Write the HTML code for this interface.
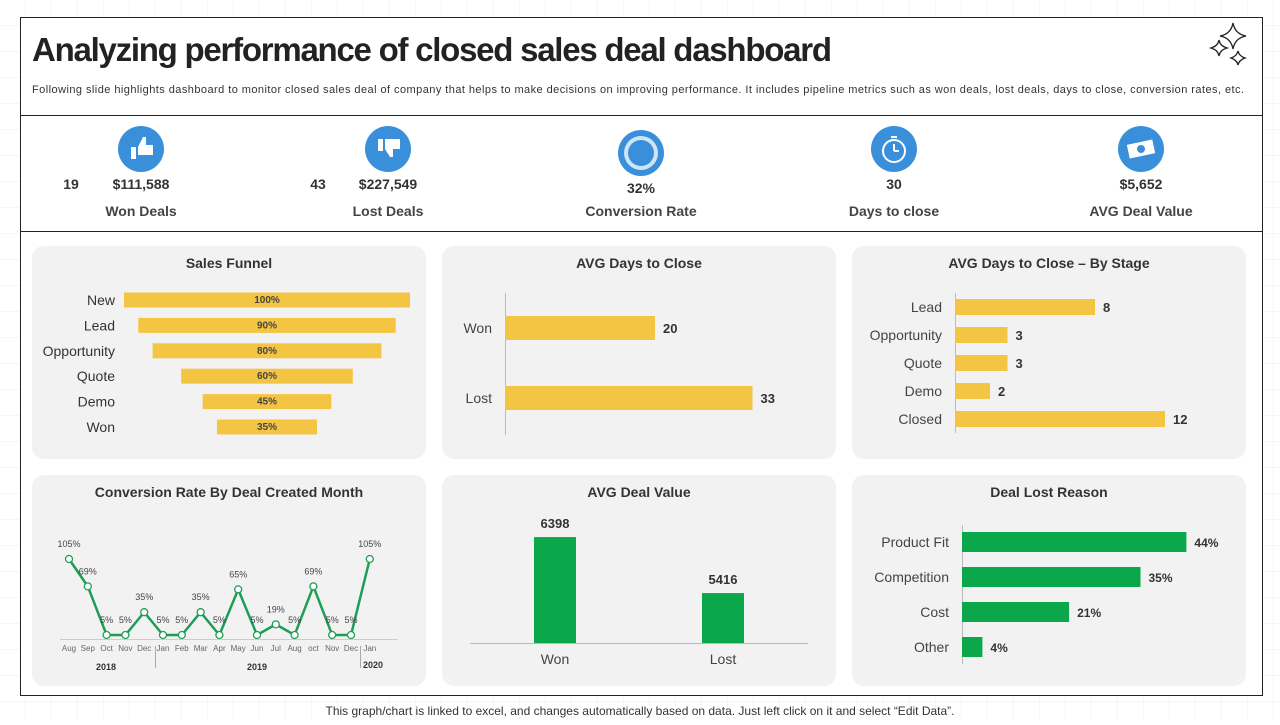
<!DOCTYPE html>
<html><head><meta charset="utf-8">
<style>
body{margin:0;width:1280px;height:720px;overflow:hidden;background:#fff;font-family:"Liberation Sans",sans-serif;}
svg text{font-family:"Liberation Sans",sans-serif;}
</style></head>
<body>
<svg id="s" width="1280" height="720" xmlns="http://www.w3.org/2000/svg">
<defs><pattern id="g" width="26" height="26" patternUnits="userSpaceOnUse"><path d="M26 0V26H0" fill="none" stroke="#eee" stroke-width="1"/></pattern></defs>
<rect width="1280" height="720" fill="url(#g)"/>
<rect x="20.5" y="17.5" width="1242" height="678" fill="#fff" stroke="#222"/>
<line x1="20" y1="115.5" x2="1263" y2="115.5" stroke="#222"/>
<line x1="20" y1="231.5" x2="1263" y2="231.5" stroke="#222"/>
<text x="32" y="61" font-size="33" font-weight="bold" fill="#222" textLength="800">Analyzing performance of closed sales deal dashboard</text>
<text x="32" y="93" font-size="11" fill="#333" textLength="1212">Following slide highlights dashboard to monitor closed sales deal of company that helps to make decisions on improving performance. It includes pipeline metrics such as won deals, lost deals, days to close, conversion rates, etc.</text>
<g fill="none" stroke="#222" stroke-width="1.3">
<path d="M1233 23 Q1235 34 1246 36 Q1235 38 1233 49 Q1231 38 1220 36 Q1231 34 1233 23Z"/>
<path d="M1219 40 Q1220 46 1227 48 Q1220 50 1219 56 Q1218 50 1211 48 Q1218 46 1219 40Z"/>
<path d="M1238 51 Q1239 56 1245 58 Q1239 60 1238 65 Q1237 60 1231 58 Q1237 56 1238 51Z"/>
</g>
<text x="640" y="715" font-size="12" fill="#333" text-anchor="middle">This graph/chart is linked to excel, and changes automatically based on data. Just left click on it and select “Edit Data”.</text>
<g id="kpis"></g>
<g id="panels"></g>
</svg>
<script>
// ---- data ----
const kpiLabels=["Won Deals","Lost Deals","Conversion Rate","Days to close","AVG Deal Value"];
const kpiValues=["$111,588","$227,549","32%","30","$5,652"];
const kpiCounts=["19","43","","",""];
const funnelCats=["New","Lead","Opportunity","Quote","Demo","Won"];
const funnelVals=[100,90,80,60,45,35];
const daysCats=["Won","Lost"];
const daysVals=[20,33];
const stageCats=["Lead","Opportunity","Quote","Demo","Closed"];
const stageVals=[8,3,3,2,12];
const convMonths=["Aug","Sep","Oct","Nov","Dec","Jan","Feb","Mar","Apr","May","Jun","Jul","Aug","oct","Nov","Dec","Jan"];
const convVals=[105,69,5,5,35,5,5,35,5,65,5,19,5,69,5,5,105];
const dealCats=["Won","Lost"];
const dealVals=[6398,5416];
const lostCats=["Product Fit","Competition","Cost","Other"];
const lostVals=[44,35,21,4];

const NS="http://www.w3.org/2000/svg";
function el(tag,attrs,parent,txt){const e=document.createElementNS(NS,tag);for(const k in attrs)e.setAttribute(k,attrs[k]);if(txt!==undefined)e.textContent=txt;parent.appendChild(e);return e;}
const Y="#f4c542",G="#0aa84a",B="#3a8fdb";

// KPIs
const kg=document.getElementById('kpis');
const kx=[141,388,641,894,1141];
kpiLabels.forEach((l,i)=>{
 const g=el('g',{},kg);
 
 
 const cy=i==2?153:149;
 el('circle',{cx:kx[i],cy:cy,r:23,fill:B},g);
 if(i==2){el('circle',{cx:kx[i],cy:cy,r:17,fill:"#cfe4f7"},g);el('circle',{cx:kx[i],cy:cy,r:13,fill:B},g);}
 else if(i==0){el('path',{d:`M${kx[i]-10} ${cy-2}h5v12h-5z M${kx[i]-3} ${cy-2}l5-10h3v8h7v10h-15z`,fill:"#fff"},g);}
 else if(i==1){el('path',{d:`M${kx[i]-10} ${cy-10}h5v12h-5z M${kx[i]-3} ${cy-10}h15v10h-7v8h-3l-5-8z`,fill:"#fff"},g);}
 else if(i==3){el('circle',{cx:kx[i],cy:cy+2,r:11,fill:"none",stroke:"#fff","stroke-width":2},g);el('path',{d:`M${kx[i]} ${cy+2}v-7M${kx[i]} ${cy+2}h5M${kx[i]-3} ${cy-12}h6`,stroke:"#fff","stroke-width":2},g);}
 else {el('rect',{x:kx[i]-13,y:cy-7,width:26,height:14,fill:"#fff",transform:`rotate(-12 ${kx[i]} ${cy})`},g);el('circle',{cx:kx[i],cy:cy,r:4,fill:B},g);}
 const vy=i==2?193:189;
 const vx=(i<2)?kx[i]:kx[i];
 el('text',{x:vx,y:vy,"font-size":14,"font-weight":"bold",fill:"#333","text-anchor":"middle"},g,kpiValues[i]);
 if(kpiCounts[i])el('text',{x:kx[i]-70,y:189,"font-size":14,"font-weight":"bold",fill:"#333","text-anchor":"middle"},g,kpiCounts[i]);
 el('text',{x:kx[i],y:216,"font-size":14,"font-weight":"bold",fill:"#444","text-anchor":"middle"},g,l);
});

// panels
const pg=document.getElementById('panels');
const panels=[[32,246,"Sales Funnel"],[442,246,"AVG Days to Close"],[852,246,"AVG Days to Close – By Stage"],[32,475,"Conversion Rate By Deal Created Month"],[442,475,"AVG Deal Value"],[852,475,"Deal Lost Reason"]];
const P=[];
panels.forEach(p=>{
 const g=el('g',{},pg);
 
 
 el('rect',{x:p[0],y:p[1],width:394,height:p[1]==246?213:211,rx:12,fill:"#f2f2f2"},g);
 el('text',{x:p[0]+197,y:p[1]+22,"font-size":14,"font-weight":"bold",fill:"#333","text-anchor":"middle"},g,p[2]);
 P.push(g);
});

// Sales funnel
{const g=P[0];const fx=v=>v*2.86;const rowY=i=>300+i*25.4;
funnelCats.forEach((c,i)=>{const w=fx(funnelVals[i]);
 const r=el('rect',{x:267-w/2,y:rowY(i)-7.5,width:w,height:15,fill:Y},g);
 
 el('text',{x:267,y:rowY(i)+3,"font-size":10,"font-weight":"bold",fill:"#444","text-anchor":"middle"},g,funnelVals[i]+'%');
 el('text',{x:115,y:rowY(i)+5,"font-size":14,fill:"#333","text-anchor":"end"},g,c);});}

// AVG Days to close
{const g=P[1];const x0=505,sx=v=>v*7.5,rowY=i=>328+i*70;
el('line',{x1:x0+.5,y1:293,x2:x0+.5,y2:435,stroke:"#bbb"},g);
daysCats.forEach((c,i)=>{const r=el('rect',{x:x0,y:rowY(i)-12,width:sx(daysVals[i]),height:24,fill:Y},g);
 
 el('text',{x:x0+sx(daysVals[i])+8,y:rowY(i)+5,"font-size":13,"font-weight":"bold",fill:"#333"},g,daysVals[i]);
 el('text',{x:x0-13,y:rowY(i)+5,"font-size":14,fill:"#444","text-anchor":"end"},g,c);});}

// By stage
{const g=P[2];const x0=955,sx=v=>v*17.5,rowY=i=>307+i*28;
el('line',{x1:x0+.5,y1:293,x2:x0+.5,y2:433,stroke:"#bbb"},g);
stageCats.forEach((c,i)=>{const r=el('rect',{x:x0,y:rowY(i)-8,width:sx(stageVals[i]),height:16,fill:Y},g);
 
 el('text',{x:x0+sx(stageVals[i])+8,y:rowY(i)+5,"font-size":13,"font-weight":"bold",fill:"#333"},g,stageVals[i]);
 el('text',{x:x0-13,y:rowY(i)+5,"font-size":14,fill:"#444","text-anchor":"end"},g,c);});}

// Conversion line
{const g=P[3];const xx=i=>69+i*18.8,yy=v=>635-(v-5)*0.76;
el('line',{x1:60,y1:639.5,x2:398,y2:639.5,stroke:"#ccc"},g);
el('line',{x1:155.5,y1:646,x2:155.5,y2:668,stroke:"#aaa"},g);
el('line',{x1:360.5,y1:646,x2:360.5,y2:668,stroke:"#aaa"},g);
const pts=convVals.map((v,i)=>xx(i)+','+yy(v)).join(' ');
const pl=el('polyline',{points:pts,fill:"none",stroke:"#1e9e55","stroke-width":2.5},g);

convVals.forEach((v,i)=>{const c=el('circle',{cx:xx(i),cy:yy(v),r:3.5,fill:"#fff",stroke:"#1e9e55","stroke-width":1.3},g);
 
 el('text',{x:xx(i),y:yy(v)-12,"font-size":9,fill:"#444","text-anchor":"middle"},g,v+'%');
 el('text',{x:xx(i),y:651,"font-size":8,fill:"#666","text-anchor":"middle"},g,convMonths[i]);});
el('text',{x:106,y:670,"font-size":9,"font-weight":"bold",fill:"#333","text-anchor":"middle"},g,"2018");
el('text',{x:257,y:670,"font-size":9,"font-weight":"bold",fill:"#333","text-anchor":"middle"},g,"2019");
el('text',{x:373,y:668,"font-size":9,"font-weight":"bold",fill:"#333","text-anchor":"middle"},g,"2020");}

// AVG deal value
{const g=P[4];const base=643,min=4540,k=0.057,cx=[555,723];
el('line',{x1:470,y1:base+.5,x2:808,y2:base+.5,stroke:"#bbb"},g);
dealCats.forEach((c,i)=>{const h=(dealVals[i]-min)*k;
 const r=el('rect',{x:cx[i]-21,y:base-h,width:42,height:h,fill:G},g);
 
 el('text',{x:cx[i],y:base-h-9,"font-size":13,"font-weight":"bold",fill:"#333","text-anchor":"middle"},g,dealVals[i]);
 el('text',{x:cx[i],y:664,"font-size":14,fill:"#444","text-anchor":"middle"},g,c);});}

// Deal lost reason
{const g=P[5];const x0=962,sx=v=>v*5.1,rowY=i=>542+i*35;
el('line',{x1:x0+.5,y1:525,x2:x0+.5,y2:664,stroke:"#bbb"},g);
lostCats.forEach((c,i)=>{const r=el('rect',{x:x0,y:rowY(i)-10,width:sx(lostVals[i]),height:20,fill:G},g);
 
 el('text',{x:x0+sx(lostVals[i])+8,y:rowY(i)+5,"font-size":12,"font-weight":"bold",fill:"#333"},g,lostVals[i]+'%');
 el('text',{x:x0-13,y:rowY(i)+5,"font-size":14,fill:"#444","text-anchor":"end"},g,c);});}
</script>
</body></html>
